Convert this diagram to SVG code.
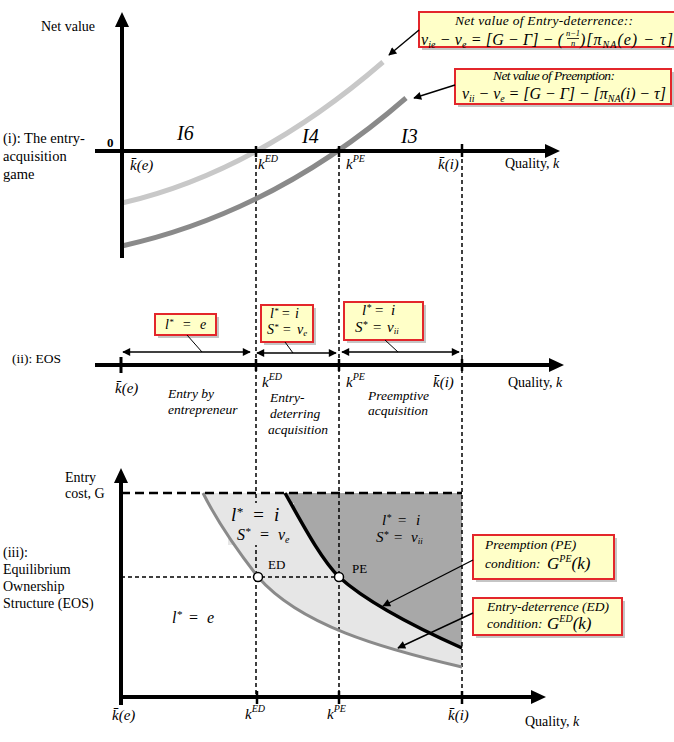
<svg xmlns="http://www.w3.org/2000/svg" width="674" height="742" viewBox="0 0 674 742" font-family="Liberation Serif, Times New Roman, serif">
<style>
text{font-family:"Liberation Serif","Times New Roman",serif;fill:#000}
.i{font-style:italic}
.ax{stroke:#000;stroke-width:4;fill:none}
.tk{stroke:#000;stroke-width:2.5}
.dash{stroke:#000;stroke-width:1.5;stroke-dasharray:4 3;fill:none}
.box{fill:#ffffc8;stroke:#e3262b;stroke-width:2}
.sh{fill:#8c8c8c;opacity:.5}
.ln{stroke:#000;stroke-width:1.4;fill:none}
</style>
<defs>
<marker id="ah" viewBox="0 0 10 10" refX="9" refY="5" markerWidth="10" markerHeight="8" markerUnits="userSpaceOnUse" orient="auto-start-reverse"><path d="M0,0 L10,5 L0,10 z" fill="#000"/></marker>
</defs>
<rect width="674" height="742" fill="#fff"/>

<g id="regions">
<path d="M203,493 C218,523 240,554 258,577 C300,625 380,648 462,667 L462,493 Z" fill="#e6e6e6"/>
<path d="M285,493 C303,525 321,559 339,577 C369,604 417,628 462,648 L462,493 Z" fill="#a8a8a8"/>
</g>

<g id="guides">
<line class="dash" x1="256" y1="151" x2="256" y2="697"/>
<line class="dash" x1="339" y1="151" x2="339" y2="697"/>
<line class="dash" x1="462" y1="145" x2="462" y2="697"/>
<line x1="121" y1="493" x2="462" y2="493" stroke="#000" stroke-width="2.5" stroke-dasharray="9 5"/>
<line class="dash" x1="121" y1="577" x2="339" y2="577"/>
<rect x="228" y="503" width="66" height="42" fill="#e6e6e6"/>
</g>

<g id="panel-i">
<path d="M122,203 Q256,172 383,62" stroke="#c8c8c8" stroke-width="5" fill="none"/>
<path d="M122,246 Q275,212 406,98" stroke="#8a8a8a" stroke-width="5" fill="none"/>
<line class="ax" x1="122" y1="258" x2="122" y2="24"/>
<polygon points="122,12 115,27 129,27" fill="#000"/>
<line class="ax" x1="95" y1="151" x2="548" y2="151"/>
<polygon points="560,151 545,144 545,158" fill="#000"/>
<line class="tk" x1="256" y1="146" x2="256" y2="157"/>
<line class="tk" x1="339" y1="146" x2="339" y2="157"/>
<line class="tk" x1="462" y1="144" x2="462" y2="157"/>
<text x="41" y="31" font-size="14">Net value</text>
<text x="107" y="147" font-size="13" font-weight="bold">0</text>
<text x="3" y="143" font-size="14.5">(i): The entry-</text>
<text x="3" y="161" font-size="14.5">acquisition</text>
<text x="3" y="179" font-size="14.5">game</text>
<text class="i" x="177" y="140" font-size="20">I6</text>
<text class="i" x="302" y="143" font-size="20">I4</text>
<text class="i" x="401" y="143" font-size="20">I3</text>
<text class="i" x="130" y="170" font-size="15">k&#x304;(e)</text>
<text class="i" x="258" y="169" font-size="15">k<tspan font-size="10" dy="-7">ED</tspan></text>
<text class="i" x="346" y="169" font-size="15">k<tspan font-size="10" dy="-7">PE</tspan></text>
<text class="i" x="438" y="169" font-size="15">k&#x304;(i)</text>
<text x="505" y="168" font-size="14">Quality, <tspan class="i">k</tspan></text>
</g>

<g id="box-entry-deterrence">
<rect class="sh" x="422" y="15" width="262" height="35"/>
<rect class="box" x="419" y="12" width="262" height="35"/>
<text class="i" x="455" y="25" font-size="13.5" textLength="178">Net value of Entry-deterrence::</text>
<text class="i" x="421" y="45" font-size="16" textLength="142">v<tspan font-size="10" dy="3">ie</tspan><tspan dy="-3"> − v</tspan><tspan font-size="10" dy="3">e</tspan><tspan dy="-3"> = [G − Γ] − (</tspan></text>
<text class="i" x="573" y="36" font-size="8.5" text-anchor="middle">n−1</text>
<line x1="567" y1="38.5" x2="579" y2="38.5" stroke="#000" stroke-width="0.8"/>
<text class="i" x="573" y="46" font-size="8.5" text-anchor="middle">n</text>
<text class="i" x="580" y="45" font-size="16" textLength="93">)[π<tspan font-size="10" dy="3">NA</tspan><tspan dy="-3">(e) − τ]</tspan></text>
</g>

<g id="box-preemption">
<rect class="sh" x="458" y="72" width="216" height="35"/>
<rect class="box" x="455" y="69" width="216" height="35"/>
<text class="i" x="493" y="80" font-size="13.5" textLength="122">Net value of Preemption:</text>
<text class="i" x="462" y="99" font-size="16" textLength="204">v<tspan font-size="10" dy="3">ii</tspan><tspan dy="-3"> − v</tspan><tspan font-size="10" dy="3">e</tspan><tspan dy="-3"> = [G − Γ] − [π</tspan><tspan font-size="10" dy="3">NA</tspan><tspan dy="-3">(i) − τ]</tspan></text>
</g>

<g id="panel-ii">
<line class="ax" x1="95" y1="365" x2="552" y2="365"/>
<polygon points="564,365 549,358 549,372" fill="#000"/>
<line stroke="#000" stroke-width="3" x1="121" y1="357" x2="121" y2="373"/>
<line class="tk" x1="256" y1="359" x2="256" y2="371"/>
<line class="tk" x1="339" y1="359" x2="339" y2="371"/>
<line class="tk" x1="462" y1="359" x2="462" y2="371"/>
<text x="12" y="363" font-size="13.5">(ii): EOS</text>
<text class="i" x="115" y="393" font-size="15">k&#x304;(e)</text>
<text class="i" x="262" y="387" font-size="15">k<tspan font-size="10" dy="-7">ED</tspan></text>
<text class="i" x="346" y="387" font-size="15">k<tspan font-size="10" dy="-7">PE</tspan></text>
<text class="i" x="433" y="387" font-size="15">k&#x304;(i)</text>
<text x="508" y="387" font-size="14">Quality, <tspan class="i">k</tspan></text>
<text class="i" x="168" y="398" font-size="13.5">Entry by</text>
<text class="i" x="168" y="414" font-size="13.5">entrepreneur</text>
<text class="i" x="270" y="402" font-size="13.5">Entry-</text>
<text class="i" x="270" y="418" font-size="13.5">deterring</text>
<text class="i" x="268" y="434" font-size="13.5">acquisition</text>
<text class="i" x="368" y="400" font-size="13.5">Preemptive</text>
<text class="i" x="368" y="415" font-size="13.5">acquisition</text>
</g>

<g id="box-ii-e">
<rect class="sh" x="158" y="317" width="61" height="21"/>
<rect class="box" x="155" y="314" width="61" height="21"/>
<text class="i" font-size="14" y="329"><tspan x="165">l</tspan><tspan font-size="9" dy="-4">*</tspan><tspan x="182" dy="4">=</tspan><tspan x="200">e</tspan></text>
</g>
<g id="box-ii-ed">
<rect class="sh" x="264" y="308" width="52" height="37"/>
<rect class="box" x="261" y="305" width="52" height="37"/>
<text class="i" font-size="14" y="318"><tspan x="270">l</tspan><tspan font-size="9" dy="-4">*</tspan><tspan x="281" dy="4">=</tspan><tspan x="295">i</tspan></text>
<text class="i" font-size="14" y="334"><tspan x="267">S</tspan><tspan font-size="9" dy="-4">*</tspan><tspan x="282" dy="4">=</tspan><tspan x="297">v</tspan><tspan font-size="9" dy="2">e</tspan></text>
</g>
<g id="box-ii-pe">
<rect class="sh" x="347" y="305" width="79" height="38"/>
<rect class="box" x="344" y="302" width="79" height="38"/>
<text class="i" font-size="15" y="315"><tspan x="362">l</tspan><tspan font-size="10" dy="-4">*</tspan><tspan x="374" dy="4">=</tspan><tspan x="391">i</tspan></text>
<text class="i" font-size="15" y="332"><tspan x="355">S</tspan><tspan font-size="10" dy="-4">*</tspan><tspan x="372" dy="4">=</tspan><tspan x="387">v</tspan><tspan font-size="9" dy="2">ii</tspan></text>
</g>

<g id="panel-iii">
<path d="M203,493 C218,523 240,554 258,577 C300,625 380,648 462,667" stroke="#8a8a8a" stroke-width="3" fill="none"/>
<path d="M285,493 C303,525 321,559 339,577 C369,604 417,628 462,648" stroke="#000" stroke-width="3.5" fill="none"/>
<line class="ax" x1="121" y1="699" x2="121" y2="480"/>
<polygon points="121,468 114,483 128,483" fill="#000"/>
<line class="ax" x1="119" y1="697" x2="534" y2="697"/>
<polygon points="546,697 531,690 531,704" fill="#000"/>
<line stroke="#000" stroke-width="4" x1="121" y1="697" x2="121" y2="705"/>
<line class="tk" x1="257" y1="691" x2="257" y2="704"/>
<line class="tk" x1="339" y1="691" x2="339" y2="704"/>
<line class="tk" x1="462" y1="691" x2="462" y2="704"/>
<circle cx="258" cy="577" r="4.5" fill="#fff" stroke="#000" stroke-width="1.5"/>
<circle cx="339" cy="577" r="4.5" fill="#fff" stroke="#000" stroke-width="1.5"/>
<text x="65" y="482" font-size="14">Entry</text>
<text x="65" y="498" font-size="14">cost, G</text>
<text x="3" y="557" font-size="14">(iii):</text>
<text x="3" y="574" font-size="14">Equilibrium</text>
<text x="3" y="591" font-size="14">Ownership</text>
<text x="3" y="608" font-size="14">Structure (EOS)</text>
<text class="i" font-size="19" y="521"><tspan x="231">l</tspan><tspan font-size="13" dy="-5">*</tspan><tspan x="252" dy="5">=</tspan><tspan x="274">i</tspan></text>
<text class="i" font-size="16" y="540"><tspan x="237">S</tspan><tspan font-size="11" dy="-5">*</tspan><tspan x="259" dy="5">=</tspan><tspan x="278">v</tspan><tspan font-size="10" dy="3">e</tspan></text>
<text class="i" font-size="15" y="525"><tspan x="382">l</tspan><tspan font-size="10" dy="-4">*</tspan><tspan x="397" dy="4">=</tspan><tspan x="416">i</tspan></text>
<text class="i" font-size="15" y="542"><tspan x="376">S</tspan><tspan font-size="10" dy="-4">*</tspan><tspan x="393" dy="4">=</tspan><tspan x="411">v</tspan><tspan font-size="9" dy="2">ii</tspan></text>
<text x="268" y="569" font-size="13">ED</text>
<text x="352" y="573" font-size="13">PE</text>
<text class="i" font-size="16" y="623"><tspan x="172">l</tspan><tspan font-size="11" dy="-5">*</tspan><tspan x="188" dy="5">=</tspan><tspan x="207">e</tspan></text>
<text class="i" x="112" y="720" font-size="15">k&#x304;(e)</text>
<text class="i" x="245" y="719" font-size="15">k<tspan font-size="10" dy="-7">ED</tspan></text>
<text class="i" x="327" y="719" font-size="15">k<tspan font-size="10" dy="-7">PE</tspan></text>
<text class="i" x="448" y="720" font-size="15">k&#x304;(i)</text>
<text x="525" y="726" font-size="14">Quality, <tspan class="i">k</tspan></text>
</g>

<g id="box-pe-condition">
<rect class="sh" x="476" y="538" width="141" height="44"/>
<rect class="box" x="473" y="535" width="141" height="44"/>
<text class="i" x="485" y="549" font-size="13.5">Preemption (PE)</text>
<text class="i" x="485" y="568" font-size="13.5">condition:</text>
<text class="i" x="547" y="569" font-size="17">G<tspan font-size="10" dy="-7">PE</tspan><tspan dy="7">(k)</tspan></text>
</g>
<g id="box-ed-condition">
<rect class="sh" x="476" y="601" width="149" height="37"/>
<rect class="box" x="473" y="598" width="149" height="37"/>
<text class="i" x="487" y="611" font-size="13.5">Entry-deterrence (ED)</text>
<text class="i" x="487" y="628" font-size="13.5">condition:</text>
<text class="i" x="547" y="629" font-size="17">G<tspan font-size="10" dy="-7">ED</tspan><tspan dy="7">(k)</tspan></text>
</g>

<g id="connectors">
<line class="ln" x1="419" y1="30" x2="389" y2="55" marker-end="url(#ah)"/>
<line class="ln" x1="455" y1="85" x2="414" y2="98" marker-end="url(#ah)"/>
<line class="ln" x1="123" y1="352" x2="250" y2="352" marker-start="url(#ah)" marker-end="url(#ah)"/>
<line class="ln" x1="257" y1="353" x2="336" y2="353" marker-start="url(#ah)" marker-end="url(#ah)"/>
<line class="ln" x1="342" y1="352" x2="459" y2="352" marker-start="url(#ah)" marker-end="url(#ah)"/>
<line stroke="#000" stroke-width="1" x1="187" y1="335" x2="202" y2="352"/>
<line stroke="#000" stroke-width="1" x1="285" y1="342" x2="293" y2="353"/>
<line stroke="#000" stroke-width="1" x1="385" y1="340" x2="398" y2="352"/>
<line class="ln" x1="473" y1="560" x2="383" y2="606" marker-end="url(#ah)"/>
<line class="ln" x1="473" y1="613" x2="398" y2="648" marker-end="url(#ah)"/>
</g>
</svg>
